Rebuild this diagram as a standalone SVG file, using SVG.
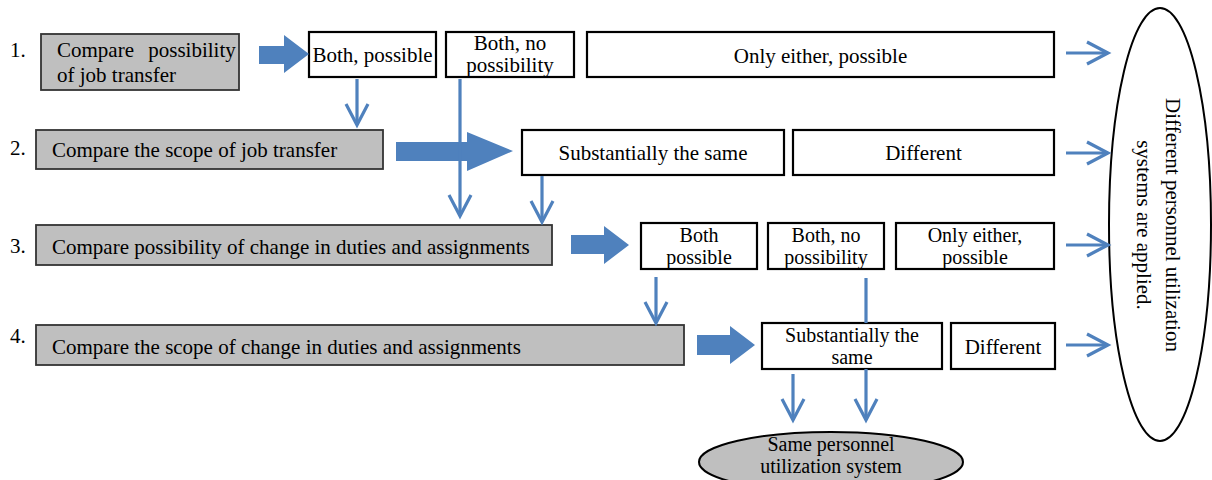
<svg xmlns="http://www.w3.org/2000/svg" width="1212" height="480" viewBox="0 0 1212 480">
<style>
text{font-family:"Liberation Serif","Times New Roman",serif;font-size:21px;fill:#000}
.sm{font-size:20px}
.gray{fill:#BFBFBF;stroke:#333;stroke-width:1.8}
.box{fill:#fff;stroke:#000;stroke-width:2.2}
.big{fill:#4F81BD;stroke:none}
.thin{fill:none;stroke:#4F81BD;stroke-width:3.2}
.c{text-anchor:middle}
</style>
<defs>
<marker id="chev" markerUnits="userSpaceOnUse" markerWidth="30" markerHeight="30" refX="0" refY="0" orient="auto" overflow="visible" viewBox="-30 -15 30 30">
<path d="M-21,-11 L0,0 L-21,11" fill="none" stroke="#4F81BD" stroke-width="3.2"/>
</marker>
</defs>
<rect width="1212" height="480" fill="#fff"/>

<g id="labels">
<text x="10" y="57">1.</text>
<text x="10" y="155">2.</text>
<text x="10" y="253">3.</text>
<text x="10" y="343">4.</text>
</g>

<g id="step1">
<rect class="gray" x="41" y="34" width="198" height="56"/>
<text x="57" y="57" word-spacing="9">Compare possibility</text>
<text x="57" y="82">of job transfer</text>
</g>
<g id="step2">
<rect class="gray" x="36" y="130" width="347" height="39"/>
<text x="52" y="157">Compare the scope of job transfer</text>
</g>
<g id="step3">
<rect class="gray" x="36" y="225" width="516" height="40"/>
<text x="52" y="254">Compare possibility of change in duties and assignments</text>
</g>
<g id="step4">
<rect class="gray" x="36" y="325" width="648" height="40"/>
<text x="52" y="354">Compare the scope of change in duties and assignments</text>
</g>

<g id="r1-both">
<rect class="box" x="309" y="32" width="127" height="45"/>
<text class="c" x="372.5" y="62">Both, possible</text>
</g>
<g id="r1-none">
<rect class="box" x="446" y="32" width="128" height="45"/>
<text class="c" x="510" y="50">Both, no</text>
<text class="c" x="510" y="72">possibility</text>
</g>
<g id="r1-either">
<rect class="box" x="587" y="32" width="467" height="45"/>
<text class="c" x="820.5" y="63">Only either, possible</text>
</g>

<g id="r2-same">
<rect class="box" x="522" y="130" width="262" height="45"/>
<text class="c" x="653" y="160">Substantially the same</text>
</g>
<g id="r2-diff">
<rect class="box" x="793" y="130" width="261" height="45"/>
<text class="c" x="923.5" y="160">Different</text>
</g>

<g id="r3-both">
<rect class="box" x="641" y="223" width="116" height="46"/>
<text class="c sm" x="699" y="242">Both</text>
<text class="c sm" x="699" y="264">possible</text>
</g>
<g id="r3-none">
<rect class="box" x="768" y="223" width="116" height="46"/>
<text class="c sm" x="826" y="242">Both, no</text>
<text class="c sm" x="826" y="264">possibility</text>
</g>
<g id="r3-either">
<rect class="box" x="896" y="223" width="158" height="46"/>
<text class="c sm" x="975" y="242">Only either,</text>
<text class="c sm" x="975" y="264">possible</text>
</g>

<g id="r4-same">
<rect class="box" x="762" y="323" width="180" height="46"/>
<text class="c sm" x="852" y="342">Substantially the</text>
<text class="c sm" x="852" y="364">same</text>
</g>
<g id="r4-diff">
<rect class="box" x="951" y="323" width="104" height="46"/>
<text class="c" x="1003" y="354">Different</text>
</g>

<g id="same-system">
<ellipse cx="831" cy="462" rx="132" ry="30" fill="#BFBFBF" stroke="#000" stroke-width="2"/>
<text class="c sm" x="831" y="451">Same personnel</text>
<text class="c sm" x="831" y="473">utilization system</text>
</g>

<g id="different-systems">
<ellipse cx="1160" cy="224.5" rx="51" ry="216.5" fill="#fff" stroke="#000" stroke-width="2"/>
<g transform="translate(1166,225) rotate(90)">
<text class="c" x="0" y="0">Different personnel utilization</text>
<text class="c" x="0" y="29">systems are applied.</text>
</g>
</g>

<g id="connectors">
<polygon class="big" points="259,46 284,46 284,35 309,54 284,73 284,64 259,64"/>
<polygon class="big" points="396,142 467,142 467,132 513,151 467,171 467,161 396,161"/>
<polygon class="big" points="571,235 604,235 604,226 629,245 604,264 604,254 571,254"/>
<polygon class="big" points="697,335 730,335 730,326 755,345 730,364 730,355 697,355"/>

<line class="thin" x1="357" y1="79" x2="357" y2="125" marker-end="url(#chev)"/>
<line class="thin" x1="460" y1="79" x2="460" y2="216" marker-end="url(#chev)"/>
<line class="thin" x1="542" y1="176" x2="542" y2="222" marker-end="url(#chev)"/>
<line class="thin" x1="656" y1="277" x2="656" y2="323" marker-end="url(#chev)"/>
<line class="thin" x1="866" y1="278" x2="866" y2="323"/>
<line class="thin" x1="866" y1="369" x2="866" y2="420" marker-end="url(#chev)"/>
<line class="thin" x1="793" y1="374" x2="793" y2="420" marker-end="url(#chev)"/>

<line class="thin" x1="1066" y1="53" x2="1108" y2="53" marker-end="url(#chev)"/>
<line class="thin" x1="1066" y1="153" x2="1108" y2="153" marker-end="url(#chev)"/>
<line class="thin" x1="1066" y1="245" x2="1108" y2="245" marker-end="url(#chev)"/>
<line class="thin" x1="1066" y1="345" x2="1108" y2="345" marker-end="url(#chev)"/>
</g>
</svg>
